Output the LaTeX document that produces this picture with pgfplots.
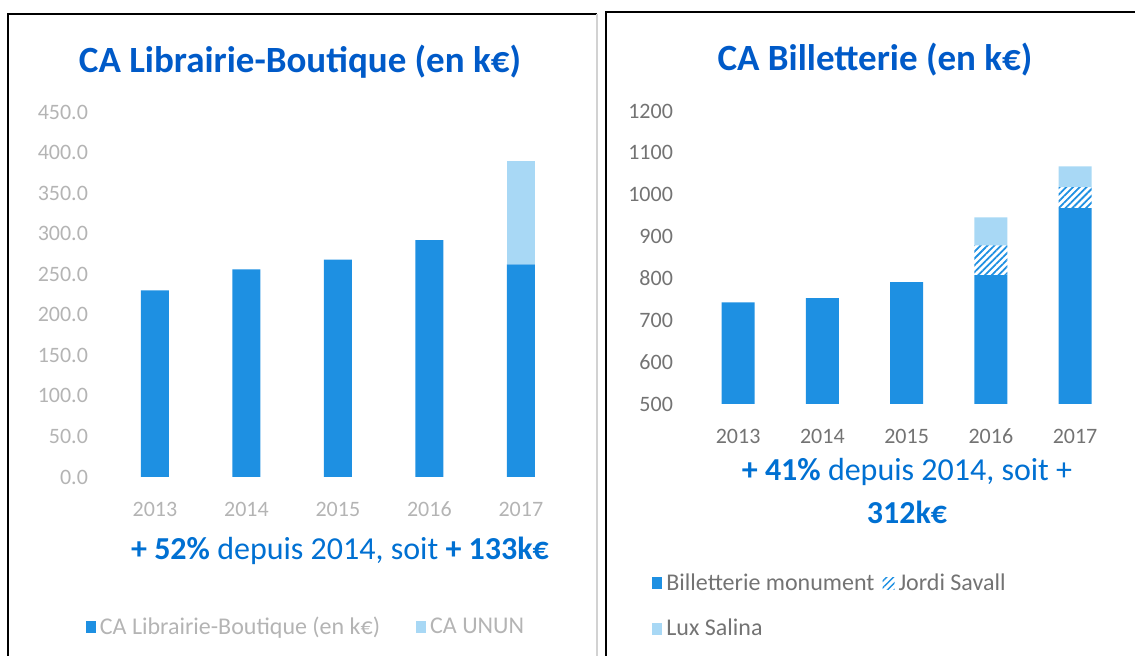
\documentclass[border=0pt]{standalone}
\usepackage{fontspec}
\setmainfont{Carlito}
\usepackage{pgfplots}
\pgfplotsset{compat=1.18}
\usetikzlibrary{patterns,patterns.meta}
\definecolor{barblue}{RGB}{30,144,226}
\definecolor{barlight}{RGB}{168,216,245}
\definecolor{titleblue}{RGB}{0,90,200}
\definecolor{subblue}{RGB}{0,112,210}
\definecolor{ticklight}{RGB}{180,180,180}
\definecolor{tickdark}{RGB}{115,115,115}
\pgfplotsset{
  mybars/.style={
    scale only axis, anchor=south west,
    ybar stacked,
    axis line style={draw=none}, tick style={draw=none},
    xtick={0,...,4}, xticklabels={2013,2014,2015,2016,2017},
    /pgf/number format/assume math mode=true,
    /pgf/number format/1000 sep={},
    ticklabel style={font=\fontsize{11}{13}\selectfont},
    xticklabel style={yshift=-8.6pt, text height=7.5pt, text depth=0pt},
    clip=true,
  }
}
\begin{document}
\begin{tikzpicture}
\useasboundingbox (0,0) rectangle (567.5pt,328pt);
\draw[line width=1.2pt] (4pt,-1pt) -- (4pt,321pt) -- (298.5pt,321pt);
\draw[gray!35, line width=0.6pt] (298.5pt,321pt) -- (298.5pt,0);
\draw[line width=1.2pt] (303pt,-1pt) -- (303pt,322pt) -- (568pt,322pt);

\node[text=titleblue, font=\bfseries\fontsize{18.5}{22}\selectfont] at (150pt,297pt) {CA Librairie-Boutique (en k€)};
\node[text=titleblue, font=\bfseries\fontsize{18.5}{22}\selectfont] at (437.5pt,298pt) {CA Billetterie (en k€)};

\begin{axis}[mybars,
  at={(50pt,89.5pt)},
  width=237.9pt, height=182.5pt,
  xmin=-0.6, xmax=4.6, ymin=0, ymax=450,
  bar width=14pt,
  ytick={0,50,...,450},
  /pgf/number format/fixed, /pgf/number format/fixed zerofill, /pgf/number format/precision=1,
  ticklabel style={text=ticklight},
  yticklabel style={xshift=-2.5pt},
  legend columns=2,
  legend style={at={(0.435,-0.411)}, anchor=center, draw=none, fill=none,
    font=\fontsize{12}{14}\selectfont, text=ticklight,
    /tikz/every even column/.append style={column sep=16pt}},
]
\addplot[fill=barblue, draw=none,
  legend image code/.code={\fill[barblue] (0pt,-3pt) rectangle (5pt,3pt);}]
  coordinates {(0,230) (1,256) (2,268) (3,292) (4,262)};
\addlegendentry{CA Librairie-Boutique (en k€)}
\addplot[fill=barlight, draw=none,
  legend image code/.code={\fill[barlight] (0pt,-3pt) rectangle (5pt,3pt);}]
  coordinates {(0,0) (1,0) (2,0) (3,0) (4,127)};
\addlegendentry{CA UNUN}
\end{axis}

\node[text=subblue, font=\fontsize{16}{19}\selectfont] at (170pt,52.5pt) {\textbf{+ 52\%} depuis 2014, soit \textbf{+ 133k€}};

\begin{axis}[mybars,
  at={(340pt,126pt)},
  width=226.6pt, height=146.5pt,
  xmin=-0.69, xmax=4.69, ymin=500, ymax=1200,
  bar width=16.5pt,
  ytick={500,600,...,1200},
  ticklabel style={text=tickdark},
  legend columns=2,
  legend cell align=left,
  legend style={at={(-0.075,-0.55)}, anchor=north west, draw=none, fill=none,
    font=\fontsize{12}{14}\selectfont, text=tickdark, row sep=9pt,
    /tikz/every even column/.append style={column sep=2pt}},
]
\addplot[fill=barblue, draw=none,
  legend image code/.code={\fill[barblue] (0pt,-3pt) rectangle (5pt,3pt);}]
  coordinates {(0,743) (1,753) (2,791) (3,808) (4,968)};
\addlegendentry{Billetterie monument}
\addplot[pattern={Lines[angle=45,distance=2.4pt,line width=0.9pt]}, pattern color=barblue, draw=none,
  legend image code/.code={\fill[pattern={Lines[angle=45,distance=2.4pt,line width=0.7pt]}, pattern color=barblue] (0pt,-3pt) rectangle (6pt,3pt);}]
  coordinates {(0,0) (1,0) (2,0) (3,71) (4,50)};
\addlegendentry{Jordi Savall}
\addplot[fill=barlight, draw=none,
  legend image code/.code={\fill[barlight] (0pt,-3pt) rectangle (5pt,3pt);}]
  coordinates {(0,0) (1,0) (2,0) (3,67) (4,50)};
\addlegendentry{Lux Salina}
\end{axis}

\node[text=subblue, font=\fontsize{16}{19}\selectfont] at (453.5pt,92pt) {\textbf{+ 41\%} depuis 2014, soit +};
\node[text=subblue, font=\fontsize{16}{19}\selectfont] at (453.5pt,72pt) {\textbf{312k€}};
\end{tikzpicture}
\end{document}
